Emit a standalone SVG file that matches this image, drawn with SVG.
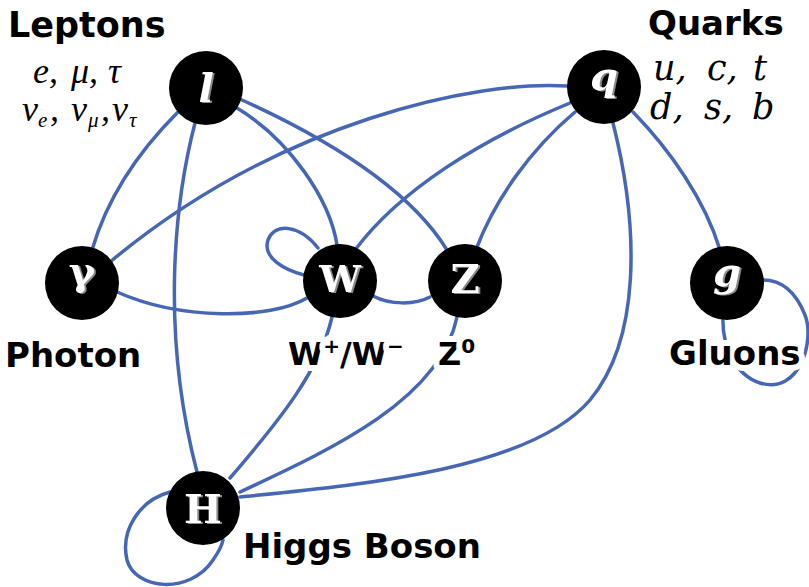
<svg xmlns="http://www.w3.org/2000/svg" width="809" height="587" viewBox="0 0 809 587">
<defs>
<filter id="sh" x="-20%" y="-20%" width="140%" height="140%"><feDropShadow dx="2" dy="1" stdDeviation="0.4" flood-color="#8a8a8a" flood-opacity="1"/></filter>
</defs>
<style>
.e{fill:none;stroke:#4767b5;stroke-width:3.5;stroke-linecap:round}
.n{fill:#000}
.lt{font-family:"DejaVu Serif","Liberation Serif",serif;font-weight:bold;font-size:40px;text-anchor:middle;fill:#fff;filter:url(#sh)}
.it{font-style:italic}
.lbl{font-family:"DejaVu Sans","Liberation Sans",sans-serif;font-weight:bold;font-size:34px;fill:#000;stroke:#fff;stroke-width:12;stroke-linejoin:round;paint-order:stroke}
.m1{font-family:"Liberation Serif","DejaVu Serif",serif;font-style:italic;font-size:36px;fill:#000}
.m2{font-family:"DejaVu Serif","Liberation Serif",serif;font-style:italic;font-size:35px;fill:#000}
</style>
<rect width="809" height="587" fill="#fff"/>
<g id="connectors">
<path class="e" d="M178,112 C140,150 108,195 92,250"/>
<path class="e" d="M195,123 C175,200 160,330 197,472"/>
<path class="e" d="M237,108 C290,140 330,200 337,245"/>
<path class="e" d="M242,100 C330,140 410,190 447,250"/>
<path class="e" d="M567,86 C480,80 280,120 110,262"/>
<path class="e" d="M570,103 C480,140 400,190 355,250"/>
<path class="e" d="M575,112 C530,150 495,200 477,247"/>
<path class="e" d="M633,112 C670,150 705,200 720,250"/>
<path class="e" d="M613,123 C640,230 640,340 590,400 C530,470 360,485 240,497"/>
<path class="e" d="M117,292 C180,320 270,320 307,298"/>
<path class="e" d="M318,248 C300,225 275,222 268,240 C262,258 285,270 304,275"/>
<path class="e" d="M373,296 C390,305 415,305 430,297"/>
<path class="e" d="M332,317 C320,370 280,420 230,478"/>
<path class="e" d="M457,317 C440,400 330,450 240,492"/>
<path class="e" d="M723,318 C722,345 735,375 760,383 C800,395 815,340 805,315 C795,290 780,280 763,280"/>
<path class="e" d="M170,492 C140,500 120,530 127,560 C135,590 190,595 213,560 C220,550 222,545 223,540"/>
</g>
<g id="node-l"><circle class="n" cx="206" cy="88" r="37"/><text class="lt it" x="206" y="102">l</text></g>
<g id="node-q"><circle class="n" cx="604" cy="87" r="37"/><text class="lt it" x="604" y="90">q</text></g>
<g id="node-gamma"><circle class="n" cx="82" cy="283" r="37"/><text class="lt" x="82" y="285">γ</text></g>
<g id="node-W"><circle class="n" cx="340" cy="281" r="37"/><text class="lt" x="340" y="292" style="font-size:37px">W</text></g>
<g id="node-Z"><circle class="n" cx="465" cy="281" r="37"/><text class="lt" x="465" y="293">Z</text></g>
<g id="node-g"><circle class="n" cx="727" cy="283" r="37"/><text class="lt it" x="727" y="286">g</text></g>
<g id="node-H"><circle class="n" cx="203" cy="508" r="37"/><text class="lt" x="203" y="523">H</text></g>
<g id="labels">
<text class="lbl" x="8" y="37" style="font-size:35px">Leptons</text>
<text class="lbl" x="648" y="35">Quarks</text>
<text class="lbl" x="5" y="367">Photon</text>
<text class="lbl" x="669" y="365">Gluons</text>
<text class="lbl" x="243" y="558">Higgs Boson</text>
<text class="lbl" x="288" y="365" style="font-size:32px">W<tspan dy="-12" font-size="20">+</tspan><tspan dy="12">/W</tspan><tspan dy="-12" font-size="20">−</tspan></text>
<text class="lbl" x="438" y="365" style="font-size:32px">Z<tspan dy="-12" font-size="20">0</tspan></text>
<text class="m1" y="83"><tspan x="33">e,</tspan><tspan x="71">μ,</tspan><tspan x="108">τ</tspan></text>
<text class="m1" y="121"><tspan x="22">ν</tspan><tspan x="38" dy="6" font-size="21">e</tspan><tspan x="50" dy="-6">,</tspan><tspan x="71">ν</tspan><tspan x="88" dy="6" font-size="21">μ</tspan><tspan x="101" dy="-6">,</tspan><tspan x="112">ν</tspan><tspan x="129" dy="6" font-size="21">τ</tspan></text>
<text class="m2" y="80"><tspan x="653">u,</tspan><tspan x="707">c,</tspan><tspan x="753">t</tspan></text>
<text class="m2" y="119"><tspan x="650">d,</tspan><tspan x="704">s,</tspan><tspan x="752">b</tspan></text>
</g>
</svg>
